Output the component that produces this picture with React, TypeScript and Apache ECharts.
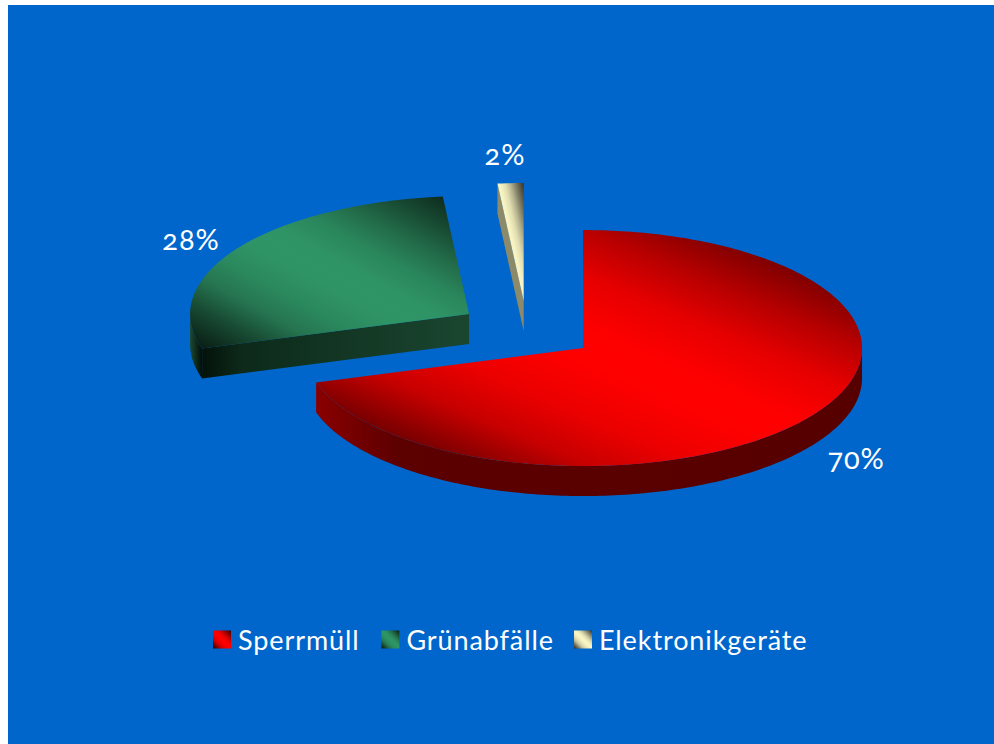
import React, { useEffect, useRef } from "react";
import * as echarts from "echarts";

const categories = ["Sperrmüll", "Grünabfälle", "Elektronikgeräte"];
const shares = [70.3, 28.2, 1.5];

const baseColors = [[255, 0, 0], [47, 149, 102], [248, 244, 196]];
const rimStops = [
  ["#8a0000", "#5c0000", "#560000"],
  ["#04120a", "#0d2a1a", "#1a4630"],
  ["#8c8a68", "#8c8a68", "#8c8a68"],
];
const labelNudge = [[4, -5], [0, 3], [-3, -6]];

const CX = 519;
const CY = 325.5;
const RX = 279;
const RY = 118;
const DEPTH = 30;
const EXPLODE = 0.25;
const LABEL_K = 1.2;
const FONT = "Lato";

const shadeStops: [number, number][] = [
  [0, 0.2], [0.15, 0.5], [0.25, 0.72], [0.35, 0.9], [0.45, 0.99], [0.5, 1],
  [0.55, 0.99], [0.65, 0.92], [0.75, 0.78], [0.85, 0.5], [1, 0.15],
];

function faceGradient(i: number) {
  const [r, g, b] = baseColors[i];
  return new echarts.graphic.LinearGradient(
    1, 0, 0, 1,
    shadeStops.map(([offset, f]) => ({
      offset,
      color: `rgb(${Math.round(r * f)},${Math.round(g * f)},${Math.round(b * f)})`,
    })),
  );
}

function rimGradient(i: number) {
  const [a, b, c] = rimStops[i];
  return new echarts.graphic.LinearGradient(0, 0, 1, 0, [
    { offset: 0, color: a },
    { offset: 0.15, color: b },
    { offset: 1, color: c },
  ]);
}

function renderSlice(index: number, api: any) {
  const total = shares.reduce((s, v) => s + v, 0);
  const before = shares.slice(0, index).reduce((s, v) => s + v, 0);
  const value = api.value(0);
  const start = (before / total) * 360;
  const end = ((before + value) / total) * 360;
  const mid = ((start + end) / 2) * (Math.PI / 180);
  const cx = CX + EXPLODE * RX * Math.sin(mid);
  const cy = CY - EXPLODE * RY * Math.cos(mid);
  const pt = (deg: number, dz = 0): number[] => {
    const a = (deg * Math.PI) / 180;
    return [cx + RX * Math.sin(a), cy - RY * Math.cos(a) + dz];
  };
  const arc = (from: number, to: number, dz = 0) => {
    const pts: number[][] = [];
    const steps = Math.max(2, Math.ceil(Math.abs(to - from)));
    for (let k = 0; k <= steps; k++) pts.push(pt(from + ((to - from) * k) / steps, dz));
    return pts;
  };
  const children: any[] = [];
  const sideFill = rimGradient(index);
  if (start > 180 && start < 360) {
    children.push({
      type: "polygon",
      shape: { points: [[cx, cy], pt(start), pt(start, DEPTH), [cx, cy + DEPTH]] },
      style: { fill: sideFill },
    });
  }
  const rimFrom = Math.max(start, 90);
  const rimTo = Math.min(end, 270);
  if (rimTo > rimFrom) {
    children.push({
      type: "polygon",
      shape: { points: [...arc(rimFrom, rimTo), ...arc(rimTo, rimFrom, DEPTH)] },
      style: { fill: index === 1 ? new echarts.graphic.LinearGradient(0, 0, 1, 0, [
        { offset: 0, color: "#1c4a33" }, { offset: 1, color: "#020c06" },
      ]) : sideFill },
    });
  }
  children.push({
    type: "polygon",
    shape: { points: [[cx, cy], ...arc(start, end)] },
    style: { fill: faceGradient(index) },
  });
  const lx = cx + LABEL_K * RX * Math.sin(mid) + labelNudge[index][0];
  const ly = cy - LABEL_K * RY * Math.cos(mid) + (Math.cos(mid) < 0 ? DEPTH : 0) + labelNudge[index][1];
  children.push({
    type: "text",
    x: lx,
    y: ly,
    style: {
      text: `${Math.round((value / total) * 100)}%`,
      fill: "#ffffff",
      font: `29px ${FONT}`,
      align: "center",
      verticalAlign: "middle",
    },
  });
  return { type: "group", children };
}

export default function App() {
  const ref = useRef<HTMLDivElement>(null);
  useEffect(() => {
    const chart = echarts.init(ref.current!, undefined, { renderer: "svg" });
    chart.setOption({
      animation: false,
      backgroundColor: "#0066cc",
      legend: {
        left: 205,
        top: 621,
        padding: 0,
        itemWidth: 18,
        itemHeight: 18,
        itemGap: 30,
        icon: "rect",
        selectedMode: false,
        textStyle: { color: "#ffffff", fontFamily: FONT, fontSize: 27, padding: [0, 0, 0, 2] },
        data: categories.map((name, i) => ({ name, itemStyle: { color: faceGradient(i) } })),
      },
      series: categories.map((name, i) => ({
        type: "custom",
        name,
        coordinateSystem: "none",
        silent: true,
        itemStyle: { color: faceGradient(i) },
        data: [[shares[i]]],
        renderItem: (_p: any, api: any) => renderSlice(i, api),
      })),
    });
    return () => chart.dispose();
  }, []);
  return (
    <>
      <style>{"svg text{font-variant-numeric:oldstyle-nums !important;letter-spacing:0.9px}"}</style>
      <div ref={ref} style={{ position: "absolute", left: 8, top: 5, width: 986, height: 739 }} />
    </>
  );
}
